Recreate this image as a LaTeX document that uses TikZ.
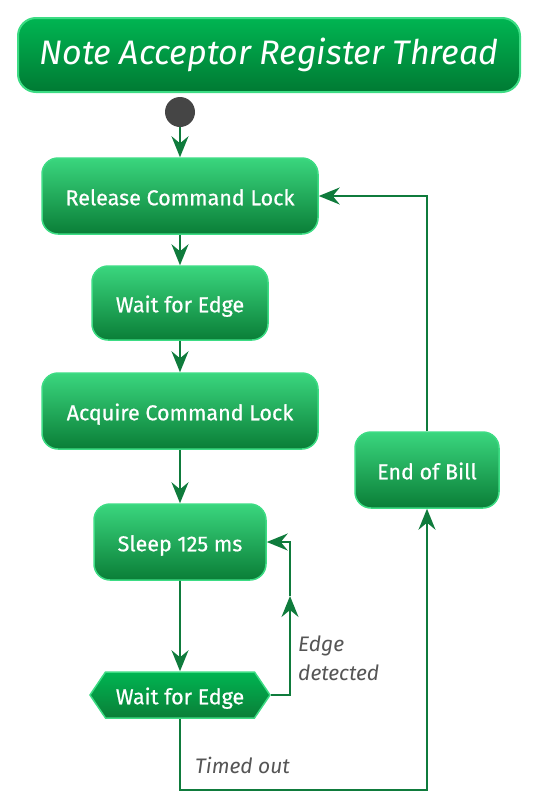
\documentclass[tikz,border=0pt]{standalone}
\usepackage{fontspec}
\setmainfont{Fira Sans}
\newfontfamily\actfont{Fira Sans}[FakeBold=0.6]
\usetikzlibrary{arrows.meta,shapes.symbols,calc}
\definecolor{lineg}{HTML}{0F7B3C}
\definecolor{bordg}{HTML}{3DDC84}
\definecolor{acttop}{HTML}{3AD67E}
\definecolor{actbot}{HTML}{0A7E37}
\definecolor{titletop}{HTML}{00B552}
\definecolor{titlebot}{HTML}{007A33}
\definecolor{lblgray}{HTML}{555555}
\tikzset{
  actbox/.style={draw=bordg, line width=1.5pt, top color=acttop, bottom color=actbot,
    rounded corners=16pt, text=white, font=\actfont\fontsize{21.5}{24}\selectfont, inner sep=0pt,
    text height=19.5pt, text depth=1pt},
  hexbox/.style={signal, signal to=west and east, signal pointer angle=112,
    draw=bordg, line width=1.5pt, top color=titletop, bottom color=actbot,
    text=white, font=\actfont\fontsize{21.5}{24}\selectfont, inner sep=0pt,
    text height=19.5pt, text depth=1pt},
  conn/.style={draw=lineg, line width=1.7pt, -{Stealth[length=21pt,width=17pt,inset=7pt]}},
  lbl/.style={text=lblgray, font=\itshape\fontsize{21}{29}\selectfont, inner sep=0pt, align=left},
}
\begin{document}
\begin{tikzpicture}[x=1pt,y=-1pt]
\useasboundingbox (0,0) rectangle (540,809);
\node[draw=bordg, line width=2pt, top color=titletop, bottom color=titlebot, rounded corners=18pt,
  minimum width=502pt, minimum height=74pt, text=white, inner sep=0pt,
  font=\itshape\fontsize{34}{38}\selectfont] (title) at (269,55) {Note Acceptor Register Thread};
\node[circle, fill=black!73, minimum size=30pt, inner sep=0pt] (start) at (180,112) {};
\node[actbox, minimum width=276pt, minimum height=76pt] (release) at (180,196) {Release Command Lock};
\node[actbox, minimum width=176pt, minimum height=74pt] (wait1) at (180,303) {Wait for Edge};
\node[actbox, minimum width=276pt, minimum height=76pt] (acquire) at (180,411) {Acquire Command Lock};
\node[actbox, minimum width=172pt, minimum height=76pt] (sleep) at (180,542) {Sleep 125 ms};
\node[hexbox, minimum width=180pt, minimum height=46pt] (hex) at (180,695) {Wait for Edge};
\node[actbox, minimum width=144pt, minimum height=76pt] (endbill) at (427,470) {End of Bill};
\coordinate (up) at (290,596);
\coordinate (bottom) at (180,790);
\draw[conn] (start) -- (release);
\draw[conn] (release) -- (wait1);
\draw[conn] (wait1) -- (acquire);
\draw[conn] (acquire) -- (sleep);
\draw[conn] (sleep) -- (hex);
\draw[conn] (hex.east) -| (up);
\draw[conn] (up) |- (sleep.east);
\draw[conn] (hex.south) -- (bottom) -| (endbill.south);
\draw[conn] (endbill.north) |- (release.east);
\node[lbl, anchor=north west] (edl) at (298,636) {Edge\\detected};
\node[lbl, anchor=base west] (tol) at (195,773) {Timed out};
\end{tikzpicture}
\end{document}
